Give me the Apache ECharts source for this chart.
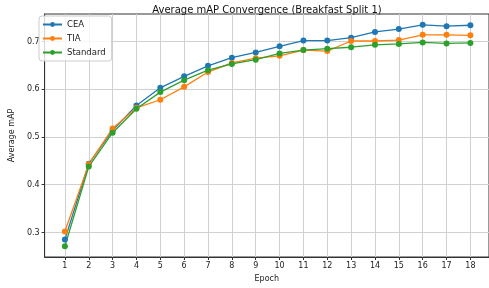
<!DOCTYPE html>
<html>
<head>
<meta charset="utf-8">
<script src="https://cdn.jsdelivr.net/npm/echarts@6/dist/echarts.min.js"></script>
<style>
  html, body { margin: 0; padding: 0; background: #fff; }
  #chart { width: 489px; height: 288px; }
</style>
</head>
<body>
<div id="chart"></div>
<script>
const epochs = [1, 2, 3, 4, 5, 6, 7, 8, 9, 10, 11, 12, 13, 14, 15, 16, 17, 18]
const cea = [0.285, 0.444, 0.514, 0.566, 0.603, 0.627, 0.649, 0.666, 0.677, 0.690, 0.702, 0.702, 0.708, 0.720, 0.726, 0.735, 0.732, 0.734]
const tia = [0.302, 0.443, 0.518, 0.561, 0.578, 0.605, 0.636, 0.655, 0.665, 0.670, 0.682, 0.680, 0.701, 0.701, 0.703, 0.714, 0.714, 0.713]
const standard = [0.271, 0.438, 0.509, 0.559, 0.594, 0.619, 0.640, 0.653, 0.662, 0.675, 0.682, 0.685, 0.688, 0.693, 0.695, 0.698, 0.696, 0.697]
const yTicks = [0.3, 0.4, 0.5, 0.6, 0.7]

const font = 'DejaVu Sans'
const colors = ['#1f77b4', '#ff7f0e', '#2ca02c']

function pairs(vals) {
    return epochs.map((e, i) => [e, vals[i]])
}

function lineSeries(name, vals) {
    return {
        name: name,
        type: 'line',
        data: pairs(vals),
        symbol: 'circle',
        symbolSize: 6,
        lineStyle: { width: 1.3 },
        emphasis: { disabled: true },
        animation: false,
    }
}

let chart = echarts.init(document.getElementById('chart'))
chart.setOption({
    color: colors,
    title: {
        text: 'Average mAP Convergence (Breakfast Split 1)',
        left: 262,
        top: 0,
        textAlign: 'center',
        textStyle: { fontFamily: font, fontSize: 10, fontWeight: 'normal', color: '#111' },
    },
    grid: {
        left: 36, top: 14, right: 0, bottom: 27,
        show: true, borderColor: '#333', borderWidth: 1,
    },
    legend: {
        orient: 'vertical',
        left: 39, top: 16,
        itemWidth: 19, itemHeight: 6, itemGap: 5,
        padding: [4, 6, 4, 3],
        borderColor: '#ccc', borderWidth: 1, borderRadius: 3,
        backgroundColor: 'rgba(255,255,255,0.8)',
        textStyle: { fontFamily: font, fontSize: 8.5, color: '#222' },
        data: ['CEA', 'TIA', 'Standard'],
    },
    xAxis: {
        type: 'value',
        min: 0.15, max: 18.78,
        name: 'Epoch',
        nameLocation: 'middle',
        nameGap: 18,
        nameTextStyle: { fontFamily: font, fontSize: 8, color: '#222' },
        axisLine: { show: true, lineStyle: { color: '#333' } },
        axisTick: { show: true, length: 3, customValues: epochs, lineStyle: { color: '#333' } },
        axisLabel: { customValues: epochs, fontFamily: font, fontSize: 8, color: '#222', margin: 5 },
        splitLine: { show: true, lineStyle: { color: '#d0d0d0', width: 1 } },
    },
    yAxis: {
        type: 'value',
        min: 0.2486, max: 0.7576,
        name: 'Average mAP',
        nameLocation: 'middle',
        nameGap: 25,
        nameTextStyle: { fontFamily: font, fontSize: 8, color: '#222' },
        axisLine: { show: true, lineStyle: { color: '#333' } },
        axisTick: { show: true, length: 3, customValues: yTicks, lineStyle: { color: '#333' } },
        axisLabel: {
            customValues: yTicks, fontFamily: font, fontSize: 8, color: '#222', margin: 5,
            formatter: (v) => v.toFixed(1),
        },
        splitLine: { show: true, lineStyle: { color: '#d0d0d0', width: 1 } },
    },
    series: [
        lineSeries('CEA', cea),
        lineSeries('TIA', tia),
        lineSeries('Standard', standard),
    ],
})
</script>
</body>
</html>
